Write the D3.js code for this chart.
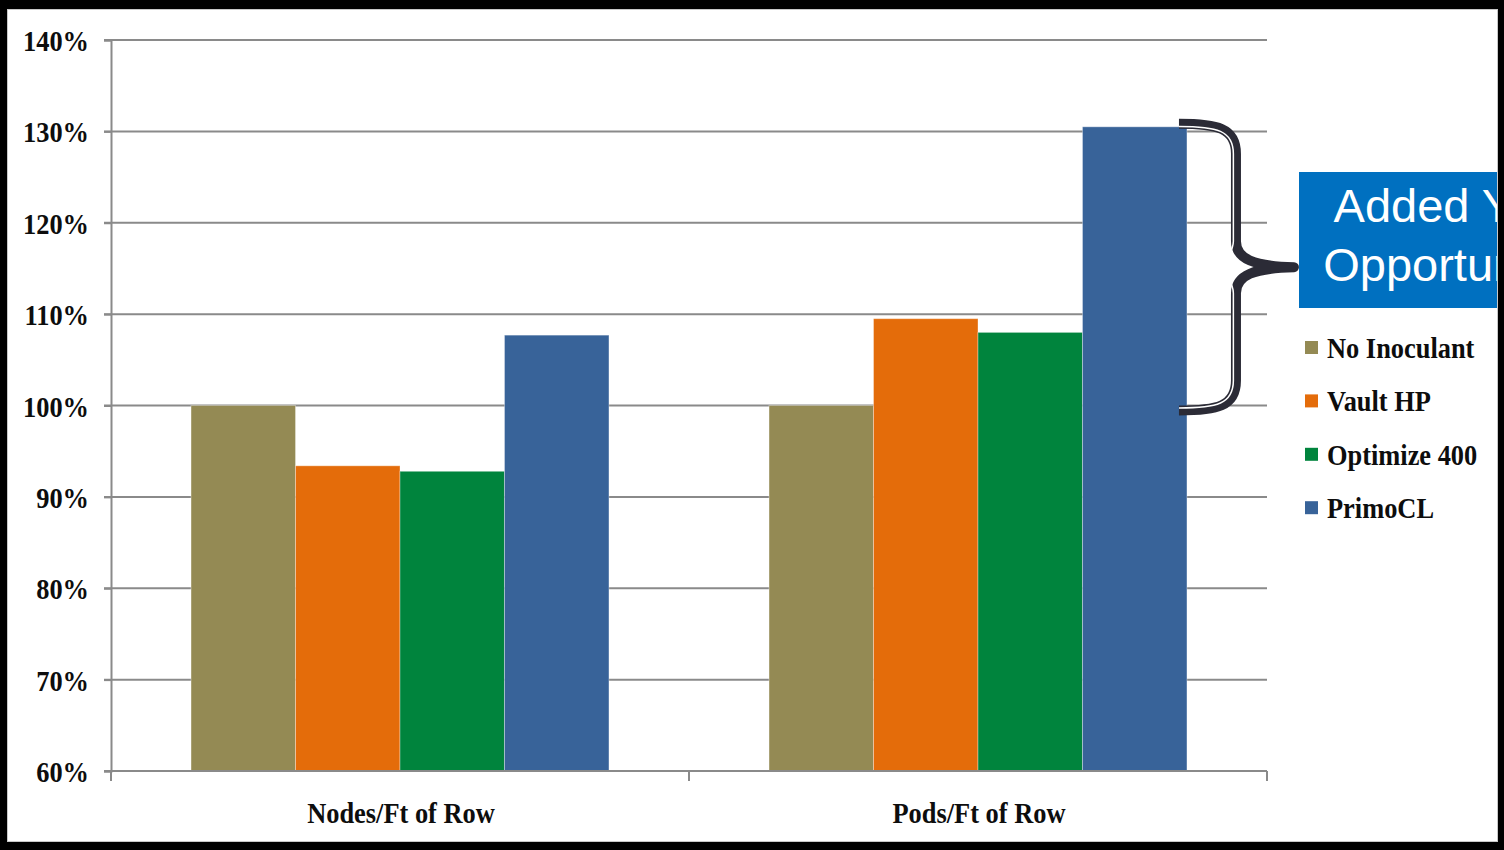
<!DOCTYPE html>
<html>
<head>
<meta charset="utf-8">
<script src="https://cdn.jsdelivr.net/npm/d3@7"></script>
<style>
  html, body { margin: 0; padding: 0; background: #fff; }
  svg { display: block; }
</style>
</head>
<body>
<svg id="chart" width="1504" height="850"></svg>
<script>
// ---- data ----
const categories = ["Nodes/Ft of Row", "Pods/Ft of Row"];
const seriesNames = ["No Inoculant", "Vault HP", "Optimize 400", "PrimoCL"];
const noInoculant = [100.0, 100.0];
const vaultHP = [93.4, 109.5];
const optimize400 = [92.8, 108.0];
const primoCL = [107.7, 130.5];
const yTickValues = [60, 70, 80, 90, 100, 110, 120, 130, 140];
const seriesColors = ["#948A54", "#E46C0A", "#00843D", "#386399"];
const calloutLines = ["Added Yield", "Opportunities"];

const seriesValues = [noInoculant, vaultHP, optimize400, primoCL];

const W = 1504, H = 850;
const svg = d3.select("#chart");
const serif = "'Liberation Serif', 'Times New Roman', serif";
const sans = "'Liberation Sans', Arial, sans-serif";
const gridColor = "#8A8A8A";
const FS = 30, SX = 0.88;   // condensed bold serif look

// helper: condensed serif label
function label(sel, x, yy, txt, anchor) {
  const g = sel.append("g").attr("transform", `translate(${x},${yy}) scale(${SX},1)`);
  g.append("text").attr("text-anchor", anchor || "start")
    .attr("font-family", serif).attr("font-weight", "bold").attr("font-size", FS)
    .attr("fill", "#0d0d0d").text(txt);
  return g;
}

// background
svg.append("rect").attr("width", W).attr("height", H).attr("fill", "#fff");

// scales
const y = d3.scaleLinear().domain([60, 140]).range([771, 40]);
const x0 = d3.scaleBand().domain(categories).range([111, 1267]).paddingInner(0).paddingOuter(0);
const x1 = d3.scaleBand().domain(seriesNames).range([0, x0.bandwidth()]).paddingInner(0).paddingOuter(0.766);
const color = d3.scaleOrdinal().domain(seriesNames).range(seriesColors);

// gridlines (with left tick stubs)
svg.append("g").selectAll("line").data(yTickValues.filter(d => d !== 60)).join("line")
  .attr("x1", 104).attr("x2", 1267)
  .attr("y1", d => y(d)).attr("y2", d => y(d))
  .attr("stroke", gridColor).attr("stroke-width", 2);

// bars
const rows = [];
seriesNames.forEach((s, si) => categories.forEach((c, ci) => rows.push({s, c, v: seriesValues[si][ci]})));
svg.append("g").selectAll("rect").data(rows).join("rect")
  .attr("x", d => x0(d.c) + x1(d.s))
  .attr("width", x1.bandwidth())
  .attr("y", d => y(d.v))
  .attr("height", d => y(60) - y(d.v))
  .attr("fill", d => color(d.s))
  .attr("stroke", "rgba(255,255,255,0.35)").attr("stroke-width", 1);

// y axis
const yAxis = d3.axisLeft(y).tickValues(yTickValues).tickSize(7).tickFormat("");
const gy = svg.append("g").attr("transform", "translate(111,0)").call(yAxis);
gy.select(".domain").attr("stroke", gridColor).attr("stroke-width", 2);
gy.selectAll(".tick line").attr("stroke", gridColor).attr("stroke-width", 2);
const ylab = svg.append("g");
yTickValues.forEach(v => label(ylab, 89, y(v) + 11, v + "%", "end"));

// x axis
const gx = svg.append("g").attr("transform", "translate(0,771)");
gx.append("line").attr("x1", 104).attr("x2", 1267).attr("y1", 0).attr("y2", 0)
  .attr("stroke", gridColor).attr("stroke-width", 2);
const xTickPos = [x0.range()[0]].concat(categories.map(c => x0(c) + x0.bandwidth()));
gx.selectAll("line.xt").data(xTickPos).join("line").attr("class", "xt")
  .attr("x1", d => d).attr("x2", d => d).attr("y1", 0).attr("y2", 10)
  .attr("stroke", gridColor).attr("stroke-width", 2);
categories.forEach(c => label(gx, x0(c) + x0.bandwidth() / 2 + 1, 52, c, "middle"));

// brace next to the tallest bar
const topV = d3.max(primoCL);
const yTop = y(topV) - 3, yBot = y(100) + 5, yMid = (yTop + yBot) / 2;
const xs = x0(categories[1]) + x1(seriesNames[3]) + x1.bandwidth() - 8;
const xv = xs + 57, xt = xv + 58;
function bracePath(o, tipX) {
  return `M${xs},${yTop + o} C${xs + 38},${yTop + o} ${xv - o},${yTop + 4 + o} ${xv - o},${yTop + 30}` +
    ` L${xv - o},${yMid - 26} C${xv - o},${yMid - 8} ${tipX - 40},${yMid - 1} ${tipX},${yMid}` +
    ` C${tipX - 40},${yMid + 1} ${xv - o},${yMid + 8} ${xv - o},${yMid + 26}` +
    ` L${xv - o},${yBot - 30} C${xv - o},${yBot - 4 - o} ${xs + 38},${yBot - o} ${xs},${yBot - o}`;
}
svg.append("path").attr("d", bracePath(0, xt)).attr("fill", "none")
  .attr("stroke", "#2B2B36").attr("stroke-width", 10).attr("stroke-linejoin", "round");
svg.append("path").attr("d", bracePath(2.6, xv + 14)).attr("fill", "none")
  .attr("stroke", "#fff").attr("stroke-width", 1.5);

// callout box (runs off the slide edge, as in the original)
svg.append("rect").attr("x", 1299).attr("y", 172).attr("width", 330).attr("height", 136)
  .attr("fill", "#0070C0");
svg.append("g").selectAll("text").data(calloutLines).join("text")
  .attr("x", (d, i) => i === 0 ? 1459 : 1463).attr("y", (d, i) => 222 + i * 59)
  .attr("text-anchor", "middle")
  .attr("font-family", sans).attr("font-size", 47).attr("fill", "#fff")
  .text(d => d);

// legend
const lg = svg.append("g").selectAll("g").data(seriesNames).join("g")
  .attr("transform", (d, i) => `translate(1305,${358 + i * 53.4})`);
lg.append("rect").attr("x", 0).attr("y", -17).attr("width", 13).attr("height", 13)
  .attr("fill", d => color(d));
lg.each(function(d) { label(d3.select(this), 22, 0, d, "start"); });

// frame
svg.append("rect").attr("x", 7.5).attr("y", 9.5).attr("width", 1490).attr("height", 832)
  .attr("fill", "none").attr("stroke", "#C8C8C8").attr("stroke-width", 1);
svg.append("path")
  .attr("d", `M0,0 H${W} V${H} H0 Z M7,9 V842 H1498 V9 Z`)
  .attr("fill", "#000").attr("fill-rule", "evenodd");
</script>
</body>
</html>
